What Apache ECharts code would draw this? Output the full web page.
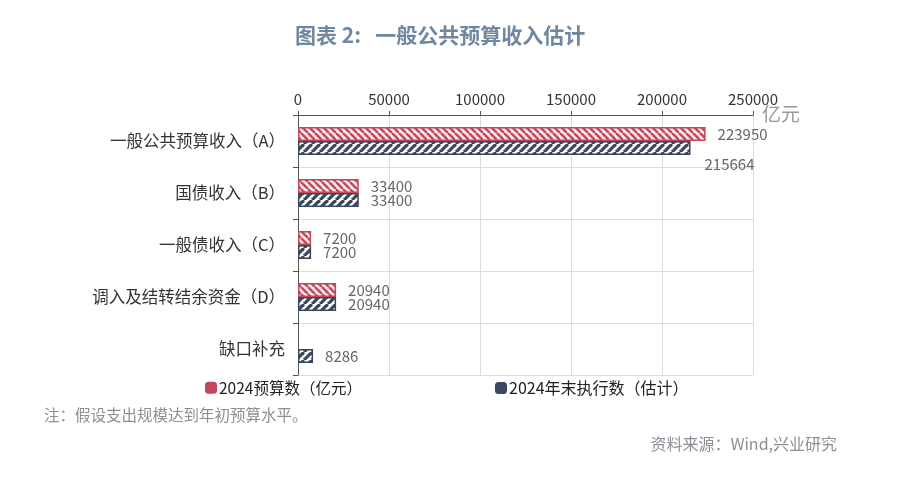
<!DOCTYPE html>
<html>
<head>
<meta charset="utf-8">
<script src="https://cdn.jsdelivr.net/npm/echarts@6/dist/echarts.min.js"></script>
<style>
  html, body { margin: 0; padding: 0; background: #fff; }
  #chart { width: 915px; height: 490px; }
</style>
</head>
<body>
<div id="chart"></div>
<script>
var categories = ["一般公共预算收入（A）", "国债收入（B）", "一般债收入（C）", "调入及结转结余资金（D）", "缺口补充"];
var budget2024 = [223950, 33400, 7200, 20940, null];
var estimate2024 = [215664, 33400, 7200, 20940, 8286];
var xTicks = [0, 50000, 100000, 150000, 200000, 250000];
var seriesNames = ["2024预算数（亿元）", "2024年末执行数（估计）"];

var red = "#c0485a";
var navy = "#3a475c";

// hatch textures
function hatch(bg, fg, dir, size, lw) {
    var c = document.createElement("canvas");
    c.width = size;
    c.height = size;
    var ctx = c.getContext("2d");
    ctx.fillStyle = bg;
    ctx.fillRect(0, 0, size, size);
    ctx.strokeStyle = fg;
    ctx.lineWidth = lw;
    for (var k = -1; k <= 1; k++) {
        ctx.beginPath();
        if (dir == "\\") {
            ctx.moveTo(k * size, 0);
            ctx.lineTo(k * size + size, size);
        } else {
            ctx.moveTo(k * size, size);
            ctx.lineTo(k * size + size, 0);
        }
        ctx.stroke();
    }
    return c;
}

var redPattern = { image: hatch("#fbe6e9", red, "\\", 7, 2.4), repeat: "repeat" };
var navyPattern = { image: hatch("#ffffff", navy, "/", 8, 3.2), repeat: "repeat" };

var myChart = echarts.init(document.getElementById("chart"));
var font = "'Noto Sans CJK SC', 'Noto Sans', sans-serif";

var estData = estimate2024.map(function(v, i) {
    if (i == 0) {
        return { value: v, label: { offset: [2, 16] } };
    }
    return v;
});

var option = {
    animation: false,
    textStyle: { fontFamily: font },
    title: {
        text: "图表 2:   一般公共预算收入估计",
        left: 290,
        top: 20,
        textStyle: { color: "#7087a0", fontSize: 21, fontWeight: "bold", fontFamily: font }
    },
    legend: [{
        data: [seriesNames[0]],
        left: 200,
        top: 375,
        itemWidth: 10,
        itemHeight: 10,
        textStyle: { color: "#222", fontSize: 15.5, fontFamily: font, padding: [0, 0, 0, -2] },
        itemStyle: { color: red, borderColor: red }
    }, {
        data: [seriesNames[1]],
        left: 490,
        top: 375,
        itemWidth: 10,
        itemHeight: 10,
        textStyle: { color: "#222", fontSize: 16, fontFamily: font, padding: [0, 0, 0, -2] },
        itemStyle: { color: navy, borderColor: navy }
    }],
    grid: {
        left: 298,
        right: 162,
        top: 115,
        bottom: 115
    },
    xAxis: {
        type: "value",
        position: "top",
        min: xTicks[0],
        max: xTicks[xTicks.length - 1],
        interval: 50000,
        axisLine: { show: true, lineStyle: { color: "#555" } },
        axisTick: { show: true, length: 4, lineStyle: { color: "#555" } },
        axisLabel: {
            color: "#333",
            fontSize: 15,
            margin: 8,
            formatter: function(v) { return String(v); }
        },
        splitLine: { show: true, lineStyle: { color: "#dcdcdc" } }
    },
    yAxis: {
        type: "category",
        inverse: true,
        data: categories,
        axisLine: { show: true, lineStyle: { color: "#555" } },
        axisTick: { show: true, length: 5, lineStyle: { color: "#555" } },
        axisLabel: { color: "#333", fontSize: 16.5, margin: 13 },
        splitLine: { show: true, lineStyle: { color: "#dcdcdc" } }
    },
    series: [{
        name: seriesNames[0],
        type: "bar",
        data: budget2024,
        barWidth: 14,
        barGap: "0%",
        itemStyle: { color: redPattern, borderColor: red, borderWidth: 1.5 },
        label: { show: true, position: "right", distance: 12, color: "#666", fontSize: 15 }
    }, {
        name: seriesNames[1],
        type: "bar",
        data: estData,
        barWidth: 14,
        barGap: "0%",
        itemStyle: { color: navyPattern, borderColor: navy, borderWidth: 1.5 },
        label: { show: true, position: "right", distance: 12, color: "#666", fontSize: 15 }
    }],
    graphic: [{
        type: "text",
        left: 762,
        top: 104,
        style: { text: "亿元", fill: "#999", fontSize: 19, fontFamily: font }
    }, {
        type: "text",
        left: 44,
        top: 407,
        style: { text: "注：假设支出规模达到年初预算水平。", fill: "#8a8f96", fontSize: 15.5, fontFamily: font }
    }, {
        type: "text",
        right: 78,
        top: 436,
        style: { text: "资料来源：Wind,兴业研究", fill: "#8a8f96", fontSize: 16, fontFamily: font }
    }]
};

myChart.setOption(option);
</script>
</body>
</html>
